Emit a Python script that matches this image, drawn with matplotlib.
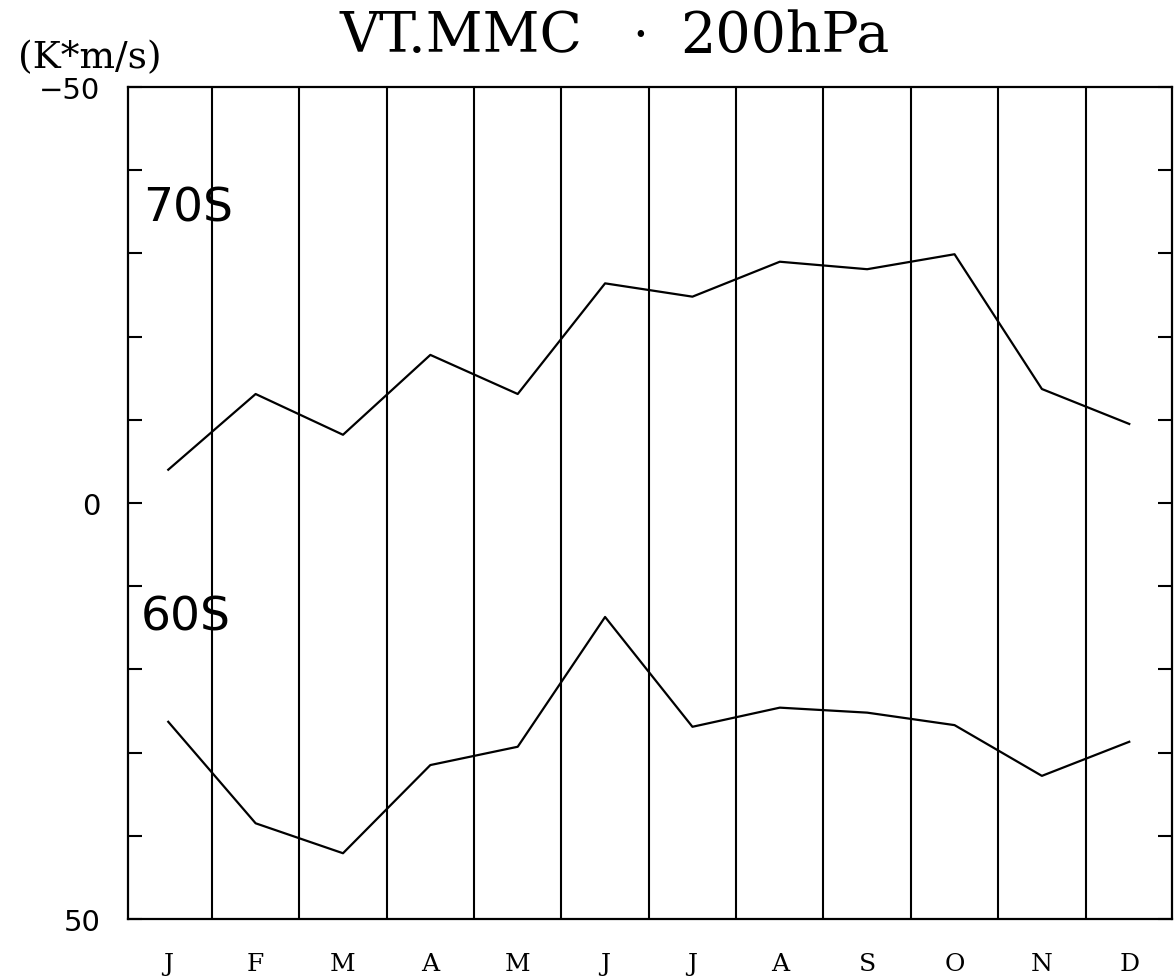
import matplotlib.pyplot as plt
from matplotlib.ticker import MultipleLocator, FixedLocator

# Monthly meridional heat transport by the mean meridional circulation at 200 hPa
months = ['J', 'F', 'M', 'A', 'M', 'J', 'J', 'A', 'S', 'O', 'N', 'D']
vt_70s = [-4.0, -13.1, -8.2, -17.8, -13.1, -26.4, -24.8, -29.0, -28.1, -29.9, -13.7, -9.5]
vt_60s = [26.3, 38.5, 42.1, 31.5, 29.3, 13.7, 26.9, 24.6, 25.2, 26.7, 32.8, 28.7]

serif = 'DejaVu Serif'
sans = 'DejaVu Sans'

fig = plt.figure(figsize=(11.75, 9.79), dpi=100)
ax = fig.add_axes([0.109, 0.0603, 0.8885, 0.8498])

x = list(range(len(months)))
ax.plot(x, vt_70s, color='black', lw=1.6)
ax.plot(x, vt_60s, color='black', lw=1.6)

# month boundaries
for i in range(len(months) - 1):
    ax.axvline(i + 0.5, color='black', lw=1.5)

ax.set_xlim(-0.46, 11.49)
ax.set_ylim(50, -50)

ax.set_xticks(x)
ax.set_xticklabels(months, fontfamily=serif, fontsize=18)
ax.tick_params(axis='x', length=0, pad=24)

ax.yaxis.set_major_locator(FixedLocator([-50, 0, 50]))
ax.yaxis.set_minor_locator(MultipleLocator(10))
ax.set_yticklabels(['\u221250', '0', '50'], fontfamily=sans, fontsize=21)
ax.tick_params(axis='y', which='both', direction='in', left=True, right=True,
               length=10, width=1.5, pad=20)

for sp in ax.spines.values():
    sp.set_linewidth(1.6)

ax.text(0.014, 0.855, '70S', transform=ax.transAxes, fontfamily=sans,
        fontsize=34, ha='left', va='center')
ax.text(0.012, 0.363, '60S', transform=ax.transAxes, fontfamily=sans,
        fontsize=34, ha='left', va='center')

fig.text(90 / 1175, 1 - 58 / 979, '(K*m/s)', fontfamily=serif, fontsize=27,
         ha='center', va='center')

# title pieces
ty = 1 - 37 / 979
fig.text(340 / 1175, ty, 'VT.MMC', fontfamily=serif, fontsize=40,
         ha='left', va='center')
fig.text(640 / 1175, ty, '\u00b7', fontfamily=serif, fontsize=36,
         ha='center', va='center')
fig.text(680 / 1175, ty, '200hPa', fontfamily=serif, fontsize=40,
         ha='left', va='center')

fig.savefig('out.png', dpi=100)
